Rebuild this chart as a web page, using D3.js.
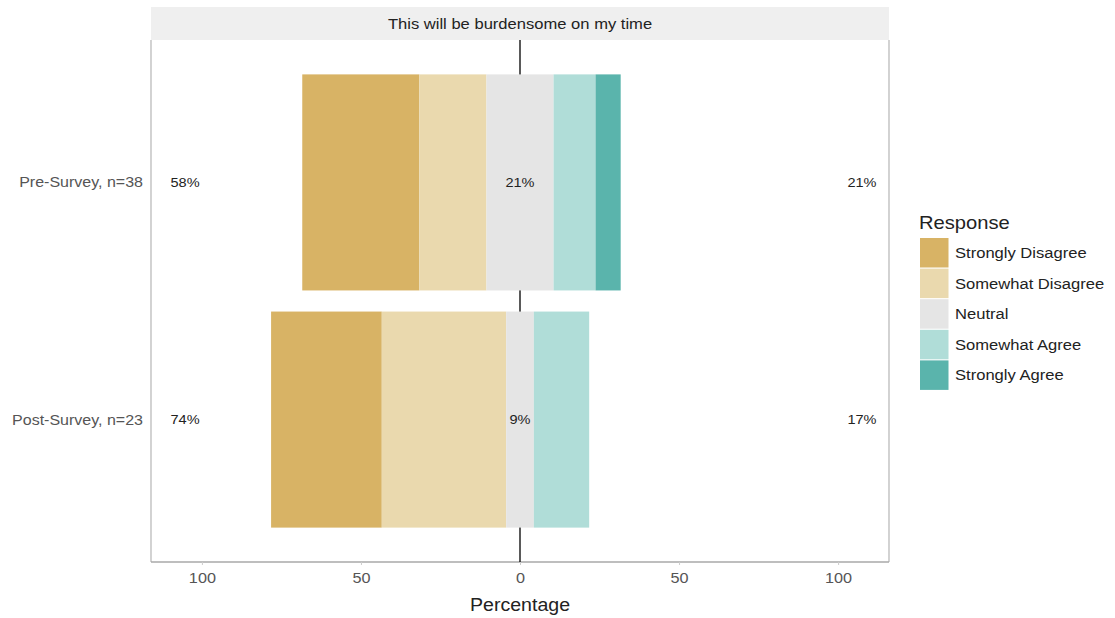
<!DOCTYPE html>
<html><head><meta charset="utf-8">
<script src="https://cdn.jsdelivr.net/npm/d3@7"></script>
<style>body{margin:0;background:#fff;font-family:"Liberation Sans",Arial,sans-serif;}</style>
</head><body><svg id="c" width="1115" height="618"></svg>
<script>
const groups = ["Pre-Survey, n=38", "Post-Survey, n=23"];
const responses = ["Strongly Disagree","Somewhat Disagree","Neutral","Somewhat Agree","Strongly Agree"];
const colors = ["#D8B365","#EAD9AE","#E5E5E5","#B0DDD8","#5AB4AC"];
// percentages per group, in response order
const pre = [36.8, 21.1, 21.1, 13.2, 7.9];
const post = [34.8, 39.1, 8.7, 17.4, 0];
const lowLabels = ["58%","74%"];
const midLabels = ["21%","9%"];
const highLabels = ["21%","17%"];
const xTicks = [-100,-50,0,50,100];
const facetTitle = "This will be burdensome on my time";

const svg = d3.select("#c");
const L=151, R=889, T=40, B=562;
const SX = 1.12;
const x = d3.scaleLinear().domain([-116,116]).range([L,R]);
const y = d3.scaleBand().domain(groups).range([T,B]).paddingInner(0.089).paddingOuter(0.145);

function txt(px,py,str,size,anchor,fill){
  return svg.append("text").attr("transform",`translate(${px},${py}) scale(${SX},1)`)
    .attr("text-anchor",anchor).attr("font-size",size).attr("fill",fill).text(str);
}

// strip
svg.append("rect").attr("x",L).attr("y",7).attr("width",R-L).attr("height",T-7).attr("fill","#efefef");
txt((L+R)/2,29,facetTitle,14.8,"middle","#222");

// panel borders
svg.append("line").attr("x1",L).attr("x2",L).attr("y1",T).attr("y2",B).attr("stroke","#b5b5b5").attr("stroke-width",1.2);
svg.append("line").attr("x1",R).attr("x2",R).attr("y1",T).attr("y2",B).attr("stroke","#b5b5b5").attr("stroke-width",1.2);
svg.append("line").attr("x1",L).attr("x2",R).attr("y1",B).attr("y2",B).attr("stroke","#a8a8a8").attr("stroke-width",1.5);

// zero line (behind bars)
svg.append("line").attr("x1",x(0)).attr("x2",x(0)).attr("y1",T).attr("y2",B).attr("stroke","#000").attr("stroke-width",1.3);

const data = [pre, post];
data.forEach((vals,gi)=>{
  const g = groups[gi];
  let start = -(vals[0]+vals[1]+vals[2]/2);
  vals.forEach((v,ri)=>{
    if(v<=0) return;
    svg.append("rect").attr("x",x(start)).attr("y",y(g)).attr("width",x(start+v)-x(start))
      .attr("height",y.bandwidth()).attr("fill",colors[ri]);
    start += v;
  });
  const cy = y(g)+y.bandwidth()/2;
  txt(x(-105.3),cy+4.5,lowLabels[gi],13,"middle","#222");
  txt(x(0),cy+4.5,midLabels[gi],13,"middle","#222");
  txt(x(107.5),cy+4.5,highLabels[gi],13,"middle","#222");
  txt(143,cy+5,g,14.3,"end","#555");
});

// x axis
const ax = svg.append("g").attr("transform",`translate(0,${B})`)
  .call(d3.axisBottom(x).tickValues(xTicks).tickSize(3).tickFormat(d=>Math.abs(d)));
ax.select(".domain").remove();
ax.selectAll("line").attr("stroke","#ccc");
ax.selectAll("text").attr("font-size",14.5).attr("fill","#555").attr("dy","1.05em")
  .attr("transform",`scale(${SX},1)`).attr("font-family","Liberation Sans, Arial, sans-serif");
txt(x(0),611,"Percentage",17.5,"middle","#222");

// legend
txt(919,229,"Response",18,"start","#222");
responses.forEach((r,i)=>{
  const yy = 238 + i*30.6;
  svg.append("rect").attr("x",920).attr("y",yy).attr("width",28.5).attr("height",29.5).attr("fill",colors[i]);
  txt(955,yy+20,r,14.8,"start","#222");
});
</script></body></html>
